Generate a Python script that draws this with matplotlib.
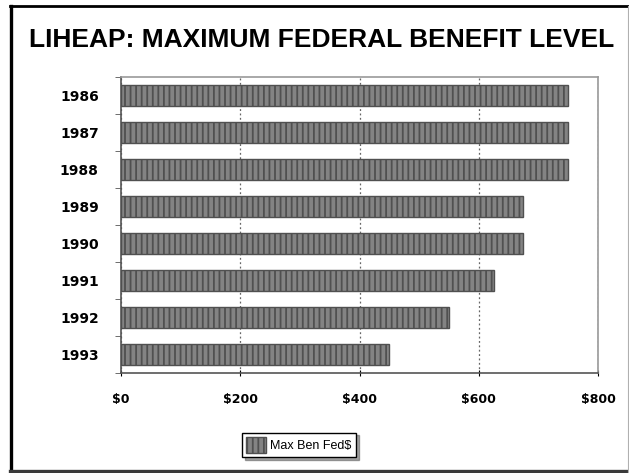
import matplotlib
matplotlib.use("Agg")
import matplotlib.pyplot as plt
from matplotlib.lines import Line2D

# values
years = ["1986", "1987", "1988", "1989", "1990", "1991", "1992", "1993"]
max_ben = [750, 750, 750, 675, 675, 625, 550, 450]
xticks = [0, 200, 400, 600, 800]
xtick_labels = ["$0", "$200", "$400", "$600", "$800"]

plt.rcParams["font.family"] = ["Liberation Sans", "DejaVu Sans"]
plt.rcParams["hatch.color"] = "#6a6a6a"
plt.rcParams["hatch.linewidth"] = 1.3

W, H = 629, 473
fig = plt.figure(figsize=(W / 100, H / 100), dpi=100)


def fx(px):
    return px / W


def fy(py):
    return 1 - py / H


# outer frame (left/top black, bottom dark, right faint)
frame = [
    ((10.5, 10.5), (6, 472), "black", 2.4),
    ((10, 628), (6.5, 6.5), "black", 2.0),
    ((10, 628), (471, 471), "#3a3a3a", 2.4),
    ((627.5, 627.5), (6, 472), "#b0b0b0", 0.8),
]
for xs, ys, c, lw in frame:
    fig.add_artist(Line2D([fx(xs[0]), fx(xs[1])], [fy(ys[0]), fy(ys[1])],
                          transform=fig.transFigure, color=c, linewidth=lw))

fig.text(fx(322), fy(40), "LIHEAP: MAXIMUM FEDERAL BENEFIT LEVEL", ha="center", va="center",
         fontsize=19, fontweight="bold")

ax = fig.add_axes([fx(121), fy(373), fx(598) - fx(121), fy(77) - fy(373)])
pos = list(range(len(years)))
ax.barh(pos, max_ben, height=0.56, color="#838383", edgecolor="#505050",
        linewidth=1.0, hatch="|||", label="Max Ben Fed$", zorder=3)

ax.set_xlim(0, 800)
ax.set_ylim(len(years) - 0.5, -0.5)
ax.set_xticks(xticks)
ax.set_xticklabels(xtick_labels, fontsize=9, fontweight="bold", family="DejaVu Sans")
ax.set_yticks(pos)
ax.set_yticklabels(years, fontsize=10, fontweight="bold", family="DejaVu Sans")
ax.tick_params(axis="y", length=0, pad=16)
ax.tick_params(axis="x", length=5, pad=12, direction="inout")
# category boundary ticks on the y axis
ax.set_yticks([p - 0.5 for p in pos] + [len(years) - 0.5], minor=True)
ax.tick_params(axis="y", which="minor", length=4, direction="out", color="#555555")

ax.grid(axis="x", linestyle=(0, (1.5, 2)), color="#666666", linewidth=0.9, zorder=1)
for side in ["top", "right"]:
    ax.spines[side].set_color("#999999")
    ax.spines[side].set_linewidth(1.2)
for side in ["left", "bottom"]:
    ax.spines[side].set_color("#555555")
    ax.spines[side].set_linewidth(1.2)

leg = fig.legend(loc="center", bbox_to_anchor=(fx(299), fy(445)), fontsize=9, frameon=True,
                 fancybox=False, shadow=True, edgecolor="black", handlelength=1.6,
                 handleheight=1.6, borderpad=0.35, handletextpad=0.3)
leg.get_frame().set_linewidth(1.0)

fig.savefig("out.png", dpi=100)
